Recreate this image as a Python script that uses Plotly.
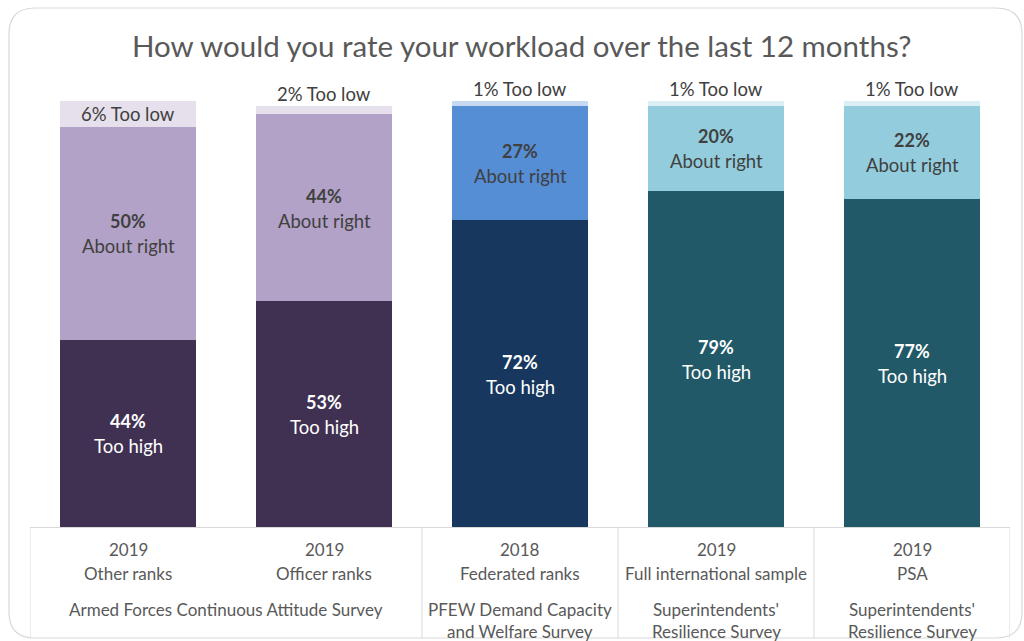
import plotly.graph_objects as go

# Survey results: share of respondents rating their workload over the last 12 months
years = ["2019", "2019", "2018", "2019", "2019"]
groups = ["Other ranks", "Officer ranks", "Federated ranks",
          "Full international sample", "PSA"]
too_high = [44, 53, 72, 79, 77]
about_right = [50, 44, 27, 20, 22]
too_low = [6, 2, 1, 1, 1]

# Survey sources spanning one or more bars: (first index, last index, label lines)
surveys = [
    (0, 1, ["Armed Forces Continuous Attitude Survey"]),
    (2, 2, ["PFEW Demand Capacity", "and Welfare Survey"]),
    (3, 3, ["Superintendents'", "Resilience Survey"]),
    (4, 4, ["Superintendents'", "Resilience Survey"]),
]

title = "How would you rate your workload over the last 12 months?"

# Palette per bar (purple for armed forces, blue for police federation, teal for superintendents)
c_high = ["#403152", "#403152", "#17375E", "#215968", "#215968"]
c_right = ["#B3A2C7", "#B3A2C7", "#558ED5", "#93CDDD", "#93CDDD"]
c_low = ["#E6E0EC", "#E6E0EC", "#C6D9F1", "#DBEEF4", "#DBEEF4"]

FONT = "Lato"
W, H = 1024, 641
L, R, T, B = 30, 14, 80, 114
PW, PH = W - L - R, H - T - B
YMAX = 105
LABEL_SIZE = 18.5
AXIS_SIZE = 17

x = list(range(len(groups)))

fig = go.Figure()
for vals, cols in [(too_high, c_high), (about_right, c_right), (too_low, c_low)]:
    fig.add_trace(go.Bar(x=x, y=vals, marker=dict(color=cols, line=dict(width=0)),
                         width=0.694, hoverinfo="skip", showlegend=False))

ann = []
for i in x:
    segs = [(too_high[i], "Too high", "#FFFFFF", 0),
            (about_right[i], "About right", "#404040", too_high[i])]
    for v, lab, col, base in segs:
        mid = base + v / 2
        ann.append(dict(x=i, y=mid, xref="x", yref="y", text=f"<b>{v}%</b>",
                        showarrow=False, yanchor="middle", yshift=12,
                        font=dict(family=FONT, size=LABEL_SIZE - 0.5, color=col)))
        ann.append(dict(x=i, y=mid, xref="x", yref="y", text=lab,
                        showarrow=False, yanchor="middle", yshift=-13,
                        font=dict(family=FONT, size=LABEL_SIZE, color=col)))
    base = too_high[i] + about_right[i]
    v = too_low[i]
    if v >= 5:
        ann.append(dict(x=i, y=base + v / 2, xref="x", yref="y", text=f"{v}% Too low",
                        showarrow=False, yanchor="middle",
                        font=dict(family=FONT, size=LABEL_SIZE, color="#404040")))
    else:
        ann.append(dict(x=i, y=base + v, xref="x", yref="y", text=f"{v}% Too low",
                        showarrow=False, yanchor="bottom", yshift=-1,
                        font=dict(family=FONT, size=LABEL_SIZE, color="#404040")))


def py(px):
    """pixel row -> paper y"""
    return (H - B - px) / PH


def pxx(px):
    """pixel column -> paper x"""
    return (px - L) / PW


# Category labels under each bar
for i in x:
    ann.append(dict(x=i, y=py(549), xref="x", yref="paper", text=years[i], showarrow=False,
                    xanchor="center", yanchor="middle",
                    font=dict(family=FONT, size=AXIS_SIZE, color="#595959")))
    ann.append(dict(x=i, y=py(573), xref="x", yref="paper", text=groups[i], showarrow=False,
                    xanchor="center", yanchor="middle",
                    font=dict(family=FONT, size=AXIS_SIZE, color="#595959")))
for a, b, lines in surveys:
    for k, line in enumerate(lines):
        ann.append(dict(x=(a + b) / 2, y=py(609 + 22 * k), xref="x", yref="paper", text=line,
                        showarrow=False, xanchor="center", yanchor="middle",
                        font=dict(family=FONT, size=AXIS_SIZE, color="#595959")))

# Title
ann.append(dict(x=pxx(522), y=py(46), xref="paper", yref="paper", text=title, showarrow=False,
                xanchor="center", yanchor="middle",
                font=dict(family=FONT, size=29.5, color="#595959")))

shapes = []
# Dividers between survey groups
bounds = [-0.5] + [b + 0.5 for _, b, _ in surveys]
for xb in bounds:
    shapes.append(dict(type="line", xref="x", yref="paper", x0=xb, x1=xb, y0=0, y1=py(638),
                       line=dict(color="#D9D9D9", width=1)))

# Rounded chart-area border
x0, x1, y0, y1, r = 9, 1022, 8, 638, 26
rx, ry = r / PW, r / PH
X0, X1, Y0, Y1 = pxx(x0), pxx(x1), py(y0), py(y1)
path = (f"M {X0+rx} {Y0} L {X1-rx} {Y0} Q {X1} {Y0} {X1} {Y0-ry} "
        f"L {X1} {Y1+ry} Q {X1} {Y1} {X1-rx} {Y1} "
        f"L {X0+rx} {Y1} Q {X0} {Y1} {X0} {Y1+ry} "
        f"L {X0} {Y0-ry} Q {X0} {Y0} {X0+rx} {Y0} Z")
shapes.append(dict(type="path", xref="paper", yref="paper", path=path,
                   line=dict(color="#D9D9D9", width=1.2), layer="below"))

fig.update_layout(
    width=W, height=H,
    margin=dict(l=L, r=R, t=T, b=B, pad=0),
    barmode="stack", bargap=0.306,
    plot_bgcolor="#FFFFFF", paper_bgcolor="#FFFFFF",
    xaxis=dict(range=[-0.5, 4.5], showticklabels=False, showgrid=False, zeroline=False,
               showline=True, linecolor="#D9D9D9", linewidth=1, ticks="", fixedrange=True),
    yaxis=dict(range=[0, YMAX], visible=False, fixedrange=True),
    annotations=ann, shapes=shapes,
)

fig.write_html("out.html", config={"displayModeBar": False})
